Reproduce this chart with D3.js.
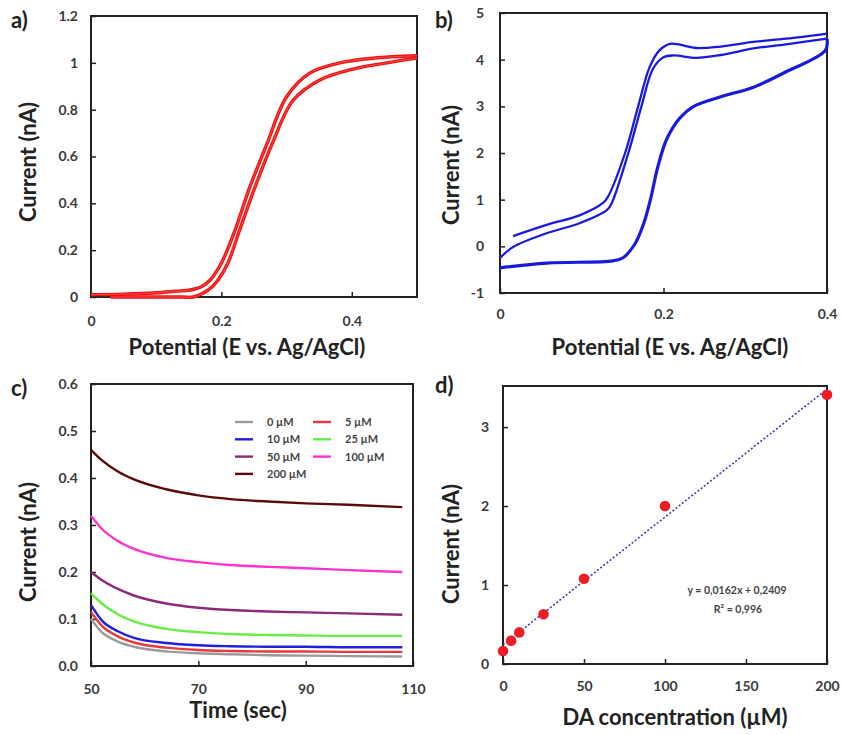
<!DOCTYPE html>
<html>
<head>
<meta charset="utf-8">
<title>DA sensing</title>
<script src="https://cdn.jsdelivr.net/npm/d3@7"></script>
<style>
    body { margin: 0; background: #fff; }
    text { font-family: Lato, "Open Sans", sans-serif; }
    .tick text { font-size: 14px; font-weight: 700; fill: #3a3a3a; }
    .tick line { stroke: #222; stroke-width: 1.5px; }
    .domain { display: none; }
    .frame { fill: none; stroke: #222; stroke-width: 2px; }
    .title { font-size: 22px; font-weight: 700; fill: #222; }
    .plabel { font-size: 22px; font-weight: 700; fill: #222; }
    .legend text { font-size: 11px; font-weight: 700; fill: #444; }
</style>
</head>
<body>
<div id="chart"></div>
<script>
// ---- data ----

// a) forward / reverse sweep (E in V, I in nA)
var aFwdE = [0, 0.05, 0.1, 0.13, 0.152, 0.17, 0.183, 0.2, 0.221, 0.243, 0.27, 0.3, 0.336, 0.382, 0.433, 0.5];
var aFwdI = [0.01, 0.012, 0.018, 0.025, 0.03, 0.045, 0.073, 0.145, 0.286, 0.465, 0.655, 0.855, 0.957, 1.0, 1.02, 1.03];
var aRevE = [0.03, 0.1, 0.14, 0.157, 0.18, 0.195, 0.21, 0.228, 0.251, 0.278, 0.31, 0.351, 0.397, 0.454, 0.5];
var aRevI = [0.0, 0.0, 0.0, 0.0, 0.03, 0.073, 0.145, 0.286, 0.465, 0.655, 0.84, 0.927, 0.97, 1.0, 1.02];

// b) cyclic voltammogram
var bOutE = [0.016, 0.057, 0.098, 0.126, 0.132, 0.153, 0.169, 0.183, 0.195, 0.208, 0.22, 0.24, 0.27, 0.31, 0.35, 0.4];
var bOutI = [0.22, 0.46, 0.67, 0.93, 1.06, 2.0, 3.0, 3.84, 4.2, 4.34, 4.32, 4.25, 4.28, 4.38, 4.45, 4.56];
var bInE = [0.0, 0.016, 0.057, 0.098, 0.131, 0.136, 0.157, 0.173, 0.187, 0.2, 0.212, 0.24, 0.27, 0.31, 0.35, 0.4];
var bInI = [-0.25, -0.015, 0.28, 0.5, 0.78, 0.9, 2.0, 3.0, 3.8, 4.05, 4.09, 4.04, 4.1, 4.24, 4.33, 4.45];
var bRevE = [0.4, 0.398, 0.35, 0.31, 0.269, 0.236, 0.22, 0.204, 0.193, 0.184, 0.176, 0.165, 0.15, 0.138, 0.0575, 0.0];
var bRevI = [4.45, 4.2, 3.74, 3.41, 3.2, 2.99, 2.75, 2.3, 1.7, 1.0, 0.5, 0.05, -0.25, -0.31, -0.36, -0.46];

// c) chronoamperometry
var cTime = [50, 52, 55, 58, 64, 70, 76, 83, 90, 98, 108];
var cNames = ["0 µM", "5 µM", "10 µM", "25 µM", "50 µM", "100 µM", "200 µM"];
var cColors = ["#9a9a9a", "#e8383d", "#1f1fe0", "#66ee44", "#8b2a7a", "#ff33cc", "#5a0a0a"];
var c0 = [0.1, 0.072, 0.052, 0.041, 0.031, 0.027, 0.025, 0.023, 0.022, 0.021, 0.02];
var c5 = [0.115, 0.086, 0.063, 0.05, 0.039, 0.034, 0.032, 0.031, 0.031, 0.03, 0.03];
var c10 = [0.13, 0.097, 0.074, 0.06, 0.049, 0.044, 0.042, 0.041, 0.041, 0.04, 0.04];
var c25 = [0.155, 0.133, 0.11, 0.095, 0.079, 0.072, 0.068, 0.066, 0.065, 0.064, 0.064];
var c50 = [0.2, 0.183, 0.164, 0.15, 0.133, 0.124, 0.119, 0.116, 0.114, 0.112, 0.109];
var c100 = [0.32, 0.292, 0.266, 0.249, 0.23, 0.221, 0.215, 0.211, 0.208, 0.204, 0.2];
var c200 = [0.46, 0.438, 0.414, 0.397, 0.376, 0.363, 0.355, 0.35, 0.346, 0.343, 0.338];
var cSeries = [c0, c5, c10, c25, c50, c100, c200];

// d) calibration
var dConc = [0, 5, 10, 25, 50, 100, 200];
var dCurr = [0.165, 0.295, 0.4, 0.63, 1.08, 2.0, 3.41];
var dSlope = 0.0162, dIntercept = 0.2409;

var width = 841, height = 735;
var svg = d3.select("#chart").append("svg")
    .attr("width", width).attr("height", height);

function zip(xs, ys) { return xs.map(function(x, i) { return [x, ys[i]]; }); }

// builds a framed panel, returns scales + group
function panel(o) {
    var x = d3.scaleLinear().domain(o.xd).range([o.l, o.r]);
    var y = d3.scaleLinear().domain(o.yd).range([o.b, o.t]);
    var g = svg.append("g");

    g.append("g").attr("transform", "translate(0," + o.b + ")")
        .call(d3.axisBottom(x).tickValues(o.xt).tickFormat(o.xf)
            .tickSizeInner(-5).tickSizeOuter(0).tickPadding(o.xpad));
    g.append("g").attr("transform", "translate(" + o.l + ",0)")
        .call(d3.axisLeft(y).tickValues(o.yt).tickFormat(o.yf)
            .tickSizeInner(-5).tickSizeOuter(0).tickPadding(o.ypad));

    g.append("rect").attr("class", "frame")
        .attr("x", o.l).attr("y", o.t).attr("width", o.r - o.l).attr("height", o.b - o.t);

    g.append("text").attr("class", "title").attr("text-anchor", "middle")
        .attr("x", o.xtx).attr("y", o.xty).text(o.xTitle);
    g.append("text").attr("class", "title").attr("text-anchor", "middle")
        .attr("transform", "translate(" + o.ytx + "," + o.yty + ") rotate(-90)")
        .text(o.yTitle);
    g.append("text").attr("class", "plabel")
        .attr("x", o.lx).attr("y", o.ly).text(o.label);

    return { x: x, y: y, g: g };
}

var fmtPlain = function(d) { return d; };

// ---- a ----
var pa = panel({ l: 91, r: 417, t: 16, b: 297, xd: [0, 0.5], yd: [0, 1.2],
    xt: [0, 0.2, 0.4], yt: [0, 0.2, 0.4, 0.6, 0.8, 1, 1.2], xf: fmtPlain, yf: fmtPlain,
    xpad: 19, ypad: 13, xTitle: "Potential (E vs. Ag/AgCl)", xtx: 247, xty: 355,
    yTitle: "Current (nA)", ytx: 36, yty: 162, label: "a)", lx: 11, ly: 28 });

var lineA = d3.line().x(function(d) { return pa.x(d[0]); }).y(function(d) { return pa.y(d[1]); })
    .curve(d3.curveCatmullRom);
[zip(aFwdE, aFwdI), zip(aRevE, aRevI)].forEach(function(s) {
    pa.g.append("path").attr("d", lineA(s)).attr("fill", "none")
        .attr("stroke", "#ee1111").attr("stroke-width", 3.4);
    pa.g.append("path").attr("d", lineA(s)).attr("fill", "none")
        .attr("stroke", "#ff5555").attr("stroke-width", 0.8);
});

// ---- b ----
var pb = panel({ l: 500, r: 827, t: 13, b: 293, xd: [0, 0.4], yd: [-1, 5],
    xt: [0, 0.2, 0.4], yt: [-1, 0, 1, 2, 3, 4, 5], xf: fmtPlain, yf: fmtPlain,
    xpad: 16, ypad: 16, xTitle: "Potential (E vs. Ag/AgCl)", xtx: 670, xty: 355,
    yTitle: "Current (nA)", ytx: 459, yty: 165, label: "b)", lx: 435, ly: 28 });

var lineB = d3.line().x(function(d) { return pb.x(d[0]); }).y(function(d) { return pb.y(d[1]); })
    .curve(d3.curveCatmullRom);
[zip(bOutE, bOutI), zip(bInE, bInI), zip(bRevE, bRevI)].forEach(function(s, i) {
    pb.g.append("path").attr("d", lineB(s)).attr("fill", "none")
        .attr("stroke", "#1a1add").attr("stroke-width", i == 2 ? 3.2 : 2.3);
});

// ---- c ----
var pc = panel({ l: 91, r: 413, t: 384, b: 666, xd: [50, 110], yd: [0, 0.6],
    xt: [50, 70, 90, 110], yt: [0, 0.1, 0.2, 0.3, 0.4, 0.5, 0.6], xf: fmtPlain, yf: d3.format(".1f"),
    xpad: 18, ypad: 13, xTitle: "Time (sec)", xtx: 238, xty: 718,
    yTitle: "Current (nA)", ytx: 36, yty: 542, label: "c)", lx: 11, ly: 396 });

var lineC = d3.line().x(function(d) { return pc.x(d[0]); }).y(function(d) { return pc.y(d[1]); })
    .curve(d3.curveMonotoneX);
cSeries.forEach(function(s, i) {
    pc.g.append("path").attr("d", lineC(zip(cTime, s))).attr("fill", "none")
        .attr("stroke", cColors[i]).attr("stroke-width", 2.4);
});

var leg = pc.g.append("g").attr("class", "legend");
cNames.forEach(function(n, i) {
    var col = i % 2, row = Math.floor(i / 2);
    var lx = 235 + col * 78, ly = 422 + row * 17.3;
    leg.append("line").attr("x1", lx).attr("x2", lx + 18).attr("y1", ly).attr("y2", ly)
        .attr("stroke", cColors[i]).attr("stroke-width", 2.4);
    leg.append("text").attr("x", lx + 32).attr("y", ly + 4).text(n);
});

// ---- d ----
var pd = panel({ l: 503, r: 827, t: 386, b: 664, xd: [0, 200], yd: [0, 3.52],
    xt: [0, 50, 100, 150, 200], yt: [0, 1, 2, 3], xf: fmtPlain, yf: fmtPlain,
    xpad: 17, ypad: 14, xTitle: "DA concentration (µM)", xtx: 675, xty: 725,
    yTitle: "Current (nA)", ytx: 459, yty: 544, label: "d)", lx: 435, ly: 393 });

pd.g.append("line")
    .attr("x1", pd.x(0)).attr("y1", pd.y(dIntercept))
    .attr("x2", pd.x(200)).attr("y2", pd.y(dSlope * 200 + dIntercept))
    .attr("stroke", "#3a3ac8").attr("stroke-width", 1.6).attr("stroke-dasharray", "2,2");

pd.g.selectAll("circle").data(zip(dConc, dCurr)).enter().append("circle")
    .attr("cx", function(d) { return pd.x(d[0]); })
    .attr("cy", function(d) { return pd.y(d[1]); })
    .attr("r", 5.3).attr("fill", "#ee1c24");

pd.g.append("text").attr("x", 737).attr("y", 594).attr("text-anchor", "middle")
    .style("font-size", "10.5px").style("font-weight", 700).style("fill", "#444")
    .text("y = 0,0162x + 0,2409");
pd.g.append("text").attr("x", 738).attr("y", 613).attr("text-anchor", "middle")
    .style("font-size", "10.5px").style("font-weight", 700).style("fill", "#444")
    .text("R² = 0,996");
</script>
</body>
</html>
